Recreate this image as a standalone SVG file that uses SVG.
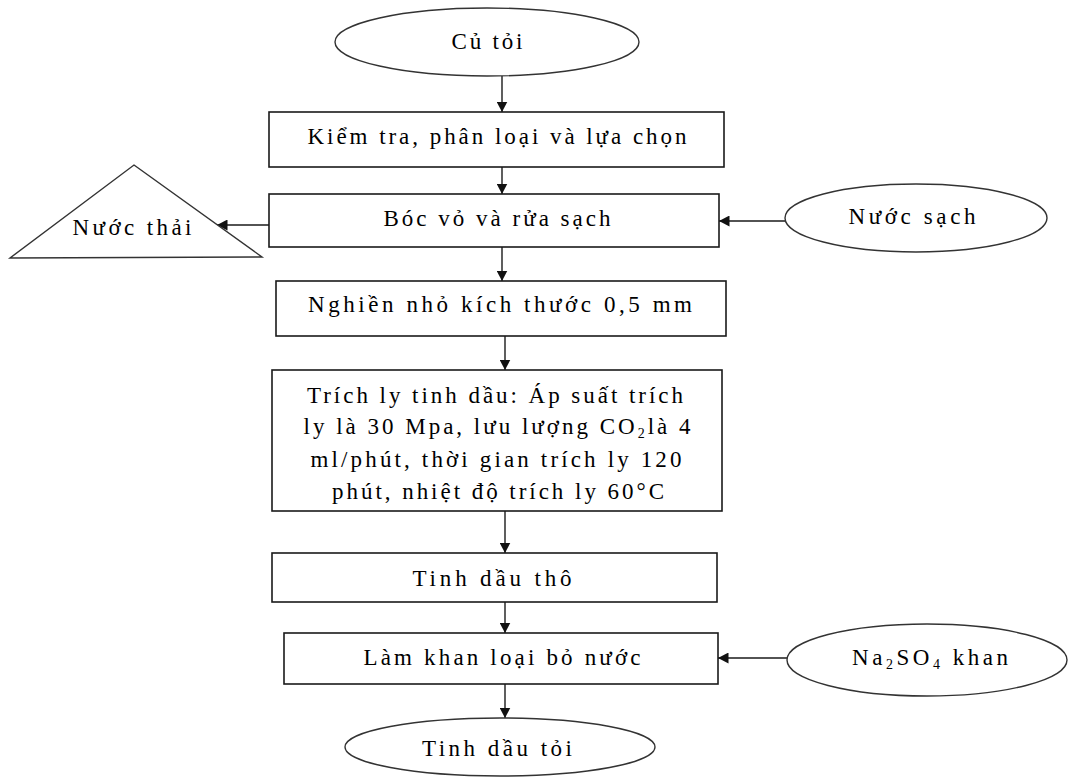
<svg xmlns="http://www.w3.org/2000/svg" width="1072" height="780" viewBox="0 0 1072 780">
<style>
  .box { fill: #ffffff; stroke: #1a1a1a; stroke-width: 1.6; }
  .ell { fill: #ffffff; stroke: #333333; stroke-width: 1.4; }
  .tri { fill: #ffffff; stroke: #333333; stroke-width: 1.4; }
  .lbl { font-family: "Liberation Serif", "Times New Roman", serif; font-size: 23px; fill: #000000; text-anchor: middle; }
  .sub { font-size: 14px; }
  .con { fill: none; stroke: #1a1a1a; stroke-width: 1.4; }
</style>
<defs>
  <marker id="arrow" markerUnits="userSpaceOnUse" markerWidth="11" markerHeight="11" refX="10.5" refY="5.5" orient="auto">
    <path d="M0,0 L10.5,5.5 L0,11 z" fill="#111111"/>
  </marker>
</defs>
<rect width="1072" height="780" fill="#ffffff"/>

<g id="connectors">
  <line class="con" x1="502" y1="76" x2="502" y2="112" marker-end="url(#arrow)"/>
  <line class="con" x1="502" y1="167" x2="502" y2="194" marker-end="url(#arrow)"/>
  <line class="con" x1="502" y1="247" x2="502" y2="281" marker-end="url(#arrow)"/>
  <line class="con" x1="505" y1="336" x2="505" y2="370" marker-end="url(#arrow)"/>
  <line class="con" x1="505" y1="511" x2="505" y2="553" marker-end="url(#arrow)"/>
  <line class="con" x1="505" y1="602" x2="505" y2="633" marker-end="url(#arrow)"/>
  <line class="con" x1="505" y1="684" x2="505" y2="718" marker-end="url(#arrow)"/>
  <line class="con" x1="786" y1="221" x2="719" y2="221" marker-end="url(#arrow)"/>
  <line class="con" x1="269" y1="225" x2="217" y2="225" marker-end="url(#arrow)"/>
  <line class="con" x1="787" y1="658" x2="718" y2="658" marker-end="url(#arrow)"/>
</g>

<g id="cu-toi">
  <ellipse class="ell" cx="487" cy="42" rx="152" ry="34"/>
  <text class="lbl" x="487" y="49" textLength="71" lengthAdjust="spacing">Củ tỏi</text>
</g>

<g id="kiem-tra">
  <rect class="box" x="269" y="112" width="455" height="55"/>
  <text class="lbl" x="497" y="144" textLength="379" lengthAdjust="spacing">Kiểm tra, phân loại và lựa chọn</text>
</g>

<g id="boc-vo">
  <rect class="box" x="269" y="194" width="450" height="53"/>
  <text class="lbl" x="497" y="226" textLength="227" lengthAdjust="spacing">Bóc vỏ và rửa sạch</text>
</g>

<g id="nuoc-thai">
  <polygon class="tri" points="134,165 262,257 10,258"/>
  <text class="lbl" x="132" y="235" textLength="119" lengthAdjust="spacing">Nước thải</text>
</g>

<g id="nuoc-sach">
  <ellipse class="ell" cx="916" cy="218" rx="131" ry="34"/>
  <text class="lbl" x="912" y="224" textLength="127" lengthAdjust="spacing">Nước sạch</text>
</g>

<g id="nghien">
  <rect class="box" x="276" y="281" width="450" height="55"/>
  <text class="lbl" x="500" y="312" textLength="384" lengthAdjust="spacing">Nghiền nhỏ kích thước 0,5 mm</text>
</g>

<g id="trich-ly">
  <rect class="box" x="272" y="370" width="450" height="141"/>
  <text class="lbl" x="495" y="403" textLength="376" lengthAdjust="spacing">Trích ly tinh dầu: Áp suất trích</text>
  <text class="lbl" x="497" y="434" textLength="387" lengthAdjust="spacing">ly là 30 Mpa, lưu lượng CO<tspan class="sub" dy="4">2</tspan><tspan dy="-4">là 4</tspan></text>
  <text class="lbl" x="496" y="467" textLength="371" lengthAdjust="spacing">ml/phút, thời gian trích ly 120</text>
  <text class="lbl" x="498" y="499" textLength="332" lengthAdjust="spacing">phút, nhiệt độ trích ly 60°C</text>
</g>

<g id="tinh-dau-tho">
  <rect class="box" x="272" y="553" width="445" height="49"/>
  <text class="lbl" x="492" y="586" textLength="159" lengthAdjust="spacing">Tinh dầu thô</text>
</g>

<g id="lam-khan">
  <rect class="box" x="284" y="633" width="434" height="51"/>
  <text class="lbl" x="502" y="665" textLength="277" lengthAdjust="spacing">Làm khan loại bỏ nước</text>
</g>

<g id="na2so4">
  <ellipse class="ell" cx="927" cy="660" rx="140" ry="36"/>
  <text class="lbl" x="930" y="665" textLength="156" lengthAdjust="spacing">Na<tspan class="sub" dy="4">2</tspan><tspan dy="-4">SO</tspan><tspan class="sub" dy="4">4</tspan><tspan dy="-4"> khan</tspan></text>
</g>

<g id="tinh-dau-toi">
  <ellipse class="ell" cx="500" cy="747" rx="155" ry="29"/>
  <text class="lbl" x="497" y="756" textLength="150" lengthAdjust="spacing">Tinh dầu tỏi</text>
</g>
</svg>
